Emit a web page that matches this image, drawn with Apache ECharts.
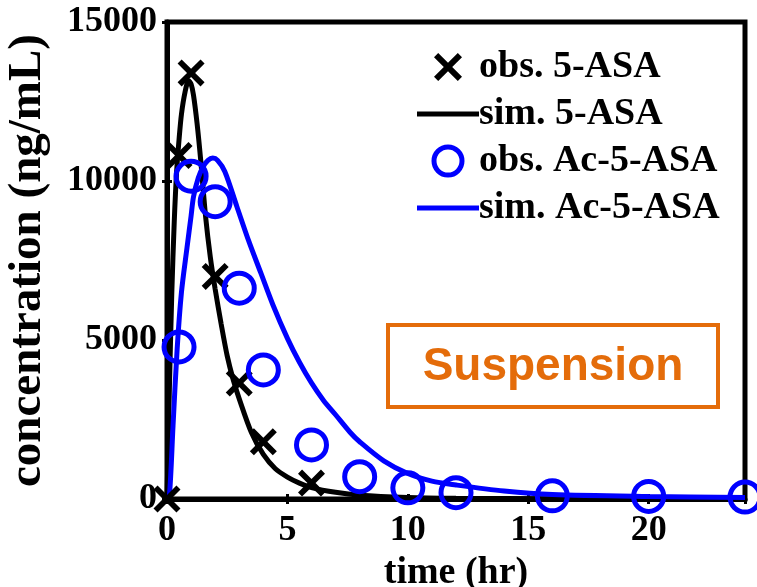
<!DOCTYPE html>
<html>
<head>
<meta charset="utf-8">
<script src="https://cdn.jsdelivr.net/npm/echarts@6/dist/echarts.min.js"></script>
<style>
  html, body { margin: 0; padding: 0; background: #fff; }
  #chart { width: 757px; height: 587px; }
</style>
</head>
<body>
<div id="chart"></div>
<script>
// ---- data ----
var obs5ASA = [[0, 0], [0.5, 10800], [1, 13400], [2, 7000], [3, 3650], [4, 1800], [6, 500]];
var sim5ASA = [[0, 0], [0.1, 3500], [0.2, 6500], [0.3, 8700], [0.4, 10300], [0.5, 11300], [0.6, 12100],
  [0.75, 12800], [0.9, 13150], [1.0, 13050], [1.1, 12700], [1.25, 11800], [1.4, 10650], [1.6, 8900],
  [1.8, 7600], [2.0, 6600], [2.25, 5500], [2.5, 4500], [2.75, 3750], [3.0, 3150], [3.5, 2100],
  [4.0, 1400], [4.5, 950], [5.0, 690], [5.5, 500], [6, 360], [7, 210], [8, 120], [10, 50], [12, 25],
  [16, 10], [24, 0]];
var obsAc5ASA = [[0.5, 4780], [1, 10150], [2, 9350], [3, 6630], [4, 4060], [6, 1700], [8, 700],
  [10, 350], [12, 200], [16, 100], [20, 80], [24, 60]];
var simAc5ASA = [[0, 0], [0.1, 100], [0.25, 2300], [0.42, 4700], [0.6, 6500], [0.83, 7900], [1.0, 8900],
  [1.1, 9500], [1.3, 10100], [1.5, 10450], [1.7, 10650], [1.9, 10720], [2.1, 10650], [2.4, 10300],
  [2.9, 9200], [3.4, 8100], [3.9, 7100], [4.4, 6100], [5.0, 5050], [5.5, 4300], [6.0, 3650],
  [6.5, 3100], [7.0, 2650], [7.6, 2100], [8.0, 1800], [9.0, 1200], [10.0, 800], [11.0, 560],
  [12.0, 440], [14.0, 250], [16.0, 140], [20.0, 80], [24.0, 50]];
var seriesNames = ['obs. 5-ASA', 'sim. 5-ASA', 'obs. Ac-5-ASA', 'sim. Ac-5-ASA'];
var xTitle = 'time (hr)';
var yTitle = 'concentration (ng/mL)';
var boxLabel = 'Suspension';

var X_PATH = 'path://M15,0 L50,35 L85,0 L100,15 L65,50 L100,85 L85,100 L50,65 L15,100 L0,85 L35,50 L0,15 Z';
var LINE_PATH = 'path://M0,0 L62,0 L62,5 L0,5 Z';
var serif = '"Liberation Serif", "Times New Roman", serif';
var BLUE = '#0000ff';

var chart = echarts.init(document.getElementById('chart'), null, { renderer: 'canvas' });
var fs = 36;
var plain = function (v) { return String(v); };
var option = {
  animation: false,
  backgroundColor: '#fff',
  grid: { left: 167, right: 12, top: 22, bottom: 88, show: true, borderColor: '#000', borderWidth: 5, backgroundColor: '#fff',
    containLabel: false, outerBoundsMode: 'none' },
  xAxis: [{
    type: 'value', min: 0, max: 24, interval: 5,
    name: xTitle, nameLocation: 'middle', nameGap: 52,
    nameTextStyle: { fontFamily: serif, fontWeight: 'bold', fontSize: 38, color: '#000' },
    axisLine: { show: true, onZero: false, lineStyle: { color: '#000', width: 5 } },
    axisTick: { show: true, inside: true, length: 5, lineStyle: { color: '#000', width: 3 } },
    axisLabel: { showMaxLabel: false, margin: 14, fontFamily: serif, fontWeight: 'bold', fontSize: fs, color: '#000', formatter: plain },
    splitLine: { show: false }
  }, {
    type: 'value', min: 0, max: 24, interval: 5, position: 'top',
    axisLine: { show: false },
    axisTick: { show: true, inside: true, length: 5, lineStyle: { color: '#000', width: 3 } },
    axisLabel: { show: false }, splitLine: { show: false }
  }],
  yAxis: [{
    type: 'value', min: 0, max: 15000, interval: 5000,
    name: yTitle, nameLocation: 'middle', nameGap: 116, nameRotate: 90,
    nameTextStyle: { fontFamily: serif, fontWeight: 'bold', fontSize: 47, color: '#000' },
    axisLine: { show: true, onZero: false, lineStyle: { color: '#000', width: 5 } },
    axisTick: { show: true, inside: true, length: 5, lineStyle: { color: '#000', width: 3 } },
    axisLabel: { margin: 10, fontFamily: serif, fontWeight: 'bold', fontSize: fs, color: '#000', formatter: plain, padding: [24, 0, 0, 0] },
    splitLine: { show: false }
  }, {
    type: 'value', min: 0, max: 15000, interval: 5000, position: 'right',
    axisLine: { show: false },
    axisTick: { show: true, inside: true, length: 5, lineStyle: { color: '#000', width: 3 } },
    axisLabel: { show: false }, splitLine: { show: false }
  }],
  legend: {
    orient: 'vertical', left: 412, top: 43, itemGap: 9, itemWidth: 62, itemHeight: 28,
    textStyle: { fontFamily: serif, fontWeight: 'bold', fontSize: 38, color: '#000', padding: [0, 0, 0, -5] },
    selectedMode: false,
    data: [
      { name: seriesNames[0], icon: X_PATH, itemStyle: { color: '#000', borderWidth: 0, opacity: 1 } },
      { name: seriesNames[1], icon: LINE_PATH, itemStyle: { color: '#000', borderWidth: 0, opacity: 1 } },
      { name: seriesNames[2], icon: 'circle', itemStyle: { color: 'rgba(0,0,0,0)', borderColor: BLUE, borderWidth: 5, opacity: 1 } },
      { name: seriesNames[3], icon: LINE_PATH, itemStyle: { color: BLUE, borderWidth: 0, opacity: 1 } }
    ]
  },
  graphic: [{
    type: 'group', left: 386, top: 323,
    children: [
      { type: 'rect', shape: { x: 0, y: 0, width: 330, height: 82 }, style: { fill: '#fff', stroke: '#E46C0A', lineWidth: 4 } },
      { type: 'text', x: 165, y: 42, style: { text: boxLabel, fill: '#E46C0A', font: 'bold 46px "Liberation Sans", Arial, sans-serif', textAlign: 'center', textVerticalAlign: 'middle' } }
    ]
  }],
  series: [
    { name: seriesNames[1], type: 'line', data: sim5ASA, showSymbol: false, smooth: 0.3, clip: false,
      lineStyle: { color: '#000', width: 5 }, itemStyle: { color: '#000' }, z: 3 },
    { name: seriesNames[3], type: 'line', data: simAc5ASA, showSymbol: false, smooth: 0.3, clip: false,
      lineStyle: { color: BLUE, width: 5 }, itemStyle: { color: BLUE }, z: 4 },
    { name: seriesNames[0], type: 'scatter', data: obs5ASA, symbol: X_PATH, symbolSize: 27, clip: false,
      itemStyle: { color: '#000', opacity: 1 }, z: 5 },
    { name: seriesNames[2], type: 'scatter', data: obsAc5ASA, symbol: 'circle', symbolSize: 30, clip: false,
      itemStyle: { color: 'rgba(0,0,0,0)', borderColor: BLUE, borderWidth: 5, opacity: 1 }, z: 6 }
  ]
};
chart.setOption(option);
</script>
</body>
</html>
